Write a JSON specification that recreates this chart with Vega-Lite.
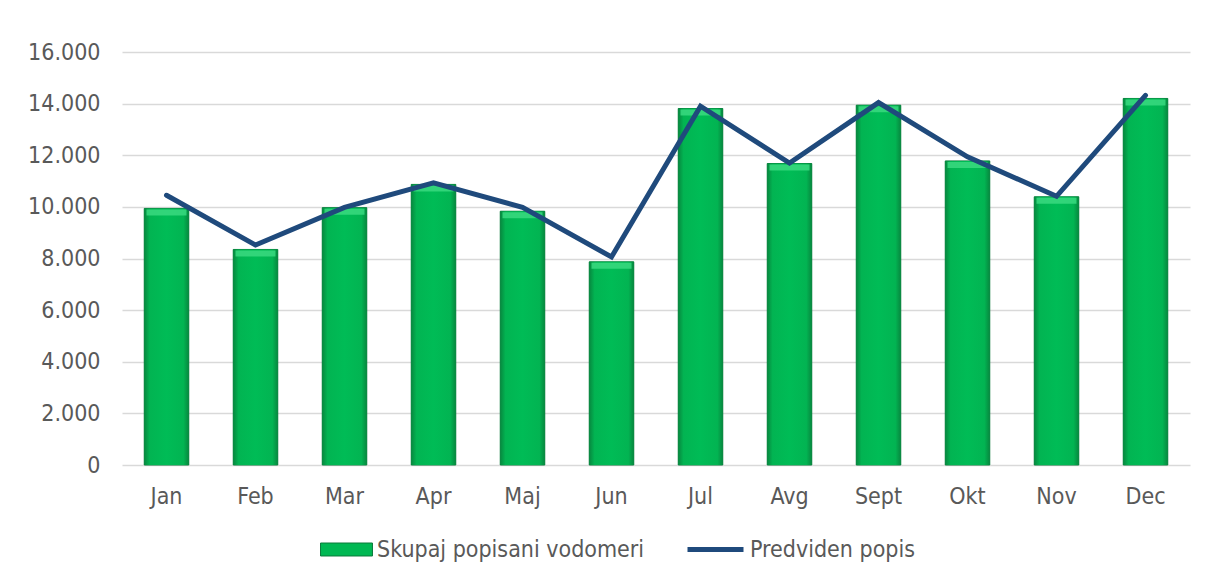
{
  "$schema": "https://vega.github.io/schema/vega-lite/v6.json",
  "width": 1068,
  "height": 413,
  "autosize": {"type": "none"},
  "padding": {"left": 122, "top": 52, "right": 24, "bottom": 118},
  "background": "white",
  "config": {
    "view": {"stroke": null},
    "font": "DejaVu Sans Condensed, DejaVu Sans",
    "axis": {"labelFont": "DejaVu Sans Condensed, DejaVu Sans", "labelFontSize": 23, "labelColor": "#595959"},
    "legend": {"labelFont": "DejaVu Sans Condensed, DejaVu Sans", "labelFontSize": 23, "labelColor": "#595959", "labelLimit": 500}
  },
  "data": {
    "values": [
      {"month": "Jan", "skupaj": 9940, "predviden": 10450},
      {"month": "Feb", "skupaj": 8350, "predviden": 8520},
      {"month": "Mar", "skupaj": 9970, "predviden": 9980},
      {"month": "Apr", "skupaj": 10870, "predviden": 10930},
      {"month": "Maj", "skupaj": 9830, "predviden": 9980},
      {"month": "Jun", "skupaj": 7870, "predviden": 8060},
      {"month": "Jul", "skupaj": 13810, "predviden": 13900},
      {"month": "Avg", "skupaj": 11680, "predviden": 11700},
      {"month": "Sept", "skupaj": 13940, "predviden": 14040},
      {"month": "Okt", "skupaj": 11780, "predviden": 11940},
      {"month": "Nov", "skupaj": 10390, "predviden": 10410},
      {"month": "Dec", "skupaj": 14200, "predviden": 14320}
    ]
  },
  "encoding": {
    "x": {
      "field": "month",
      "type": "nominal",
      "sort": null,
      "scale": {"paddingInner": 0.5, "paddingOuter": 0.25},
      "axis": {"title": null, "labelAngle": 0, "ticks": false, "domain": false, "grid": false, "labelPadding": 20}
    }
  },
  "layer": [
    {
      "mark": {"type": "bar", "stroke": "#0B7A3B", "strokeWidth": 1},
      "encoding": {
        "y": {
          "field": "skupaj",
          "type": "quantitative",
          "scale": {"domain": [0, 16000]},
          "axis": {
            "title": null,
            "values": [0, 2000, 4000, 6000, 8000, 10000, 12000, 14000, 16000],
            "labelExpr": "replace(format(datum.value, ',d'), ',', '.')",
            "ticks": false,
            "domain": false,
            "gridColor": "#D9D9D9",
            "gridWidth": 1.3,
            "labelPadding": 22
          }
        },
        "fill": {
          "datum": "Skupaj popisani vodomeri",
          "type": "nominal",
          "scale": {"range": ["#00B853"]},
          "legend": {
            "title": null,
            "orient": "none",
            "legendX": 198,
            "legendY": 471,
            "direction": "horizontal",
            "symbolType": "M-1,-0.25H1V0.25H-1Z",
            "symbolSize": 2700,
            "symbolStrokeColor": "#0B7A3B",
            "symbolStrokeWidth": 1,
            "labelOffset": 4
          }
        }
      }
    },
    {
      "mark": {
        "type": "bar",
        "strokeWidth": 0,
        "color": {
          "gradient": "linear",
          "x1": 0, "y1": 0, "x2": 1, "y2": 0,
          "stops": [
            {"offset": 0, "color": "#07883F"},
            {"offset": 0.12, "color": "#02B452"},
            {"offset": 0.5, "color": "#00BC56"},
            {"offset": 0.88, "color": "#02B452"},
            {"offset": 1, "color": "#07883F"}
          ]
        }
      },
      "encoding": {"y": {"field": "skupaj", "type": "quantitative"}}
    },
    {
      "mark": {"type": "tick", "orient": "horizontal", "thickness": 6, "size": 40, "yOffset": 4, "color": "#3AD980", "opacity": 0.85},
      "encoding": {"y": {"field": "skupaj", "type": "quantitative"}}
    },
    {
      "mark": {"type": "line", "strokeWidth": 5, "strokeCap": "round", "strokeJoin": "miter"},
      "encoding": {
        "y": {"field": "predviden", "type": "quantitative"},
        "stroke": {
          "datum": "Predviden popis",
          "type": "nominal",
          "scale": {"range": ["#1F4A7C"]},
          "legend": {
            "title": null,
            "orient": "none",
            "legendX": 563,
            "legendY": 467,
            "direction": "horizontal",
            "symbolType": "stroke",
            "symbolSize": 3136,
            "symbolStrokeWidth": 5,
            "labelOffset": 4
          }
        }
      }
    }
  ]
}
